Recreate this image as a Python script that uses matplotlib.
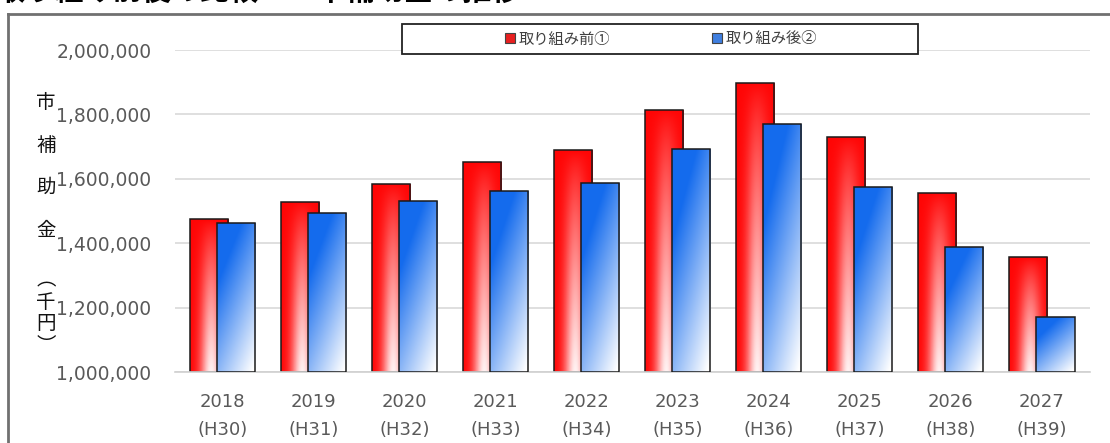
import matplotlib
matplotlib.use("Agg")
import matplotlib.pyplot as plt
import numpy as np
from matplotlib.lines import Line2D
from matplotlib.patches import Rectangle

plt.rcParams["font.family"] = ["DejaVu Sans", "Noto Sans CJK JP"]
JP = ["Noto Sans CJK JP", "DejaVu Sans"]

# ── data ──────────────────────────────────────────────────────────────────────
YEARS = ["2018", "2019", "2020", "2021", "2022", "2023", "2024", "2025", "2026", "2027"]
ERAS = ["(H30)", "(H31)", "(H32)", "(H33)", "(H34)", "(H35)", "(H36)", "(H37)", "(H38)", "(H39)"]
BEFORE = [1475000, 1528000, 1584000, 1652000, 1689000, 1814000, 1898000, 1730000, 1556000, 1357000]
AFTER = [1463000, 1494000, 1531000, 1562000, 1587000, 1693000, 1770000, 1575000, 1388000, 1171000]
LABELS = ["取り組み前①", "取り組み後②"]
YTICKS = [1000000, 1200000, 1400000, 1600000, 1800000, 2000000]
TITLE = "取り組み前後の比較　　市補助金の推移"

BAR_W = 0.42
OFFSET = 0.15
TXT = "#595959"


def gradient(kind, n=64):
    u = np.linspace(0, 1, n)[None, :]
    v = np.linspace(1, 0, n * 2)[:, None]   # row 0 = top
    if kind == "red":
        base = np.array([1.0, 0.02, 0.02])
        light = np.exp(-((u - 0.55) / 0.28) ** 2) * (1 - v) ** 0.8 * 0.95
    else:
        base = np.array([0.08, 0.42, 0.93])
        light = np.clip(u * 0.55 + (1 - v) * 0.85 - 0.35, 0, 1)
    img = base[None, None, :] * (1 - light[..., None]) + light[..., None]
    return np.clip(img, 0, 1)


def grad_bars(ax, x, h, kind, z):
    bars = ax.bar(x, np.array(h) - YTICKS[0], BAR_W, bottom=YTICKS[0],
                  facecolor="none", edgecolor="#1a1a1a", linewidth=1.1, zorder=z + 0.5)
    img = gradient(kind)
    for b in bars:
        x0, y0 = b.get_x(), b.get_y()
        fill = Rectangle((x0, y0), b.get_width(), b.get_height(),
                         facecolor="white", edgecolor="none", zorder=z)
        ax.add_patch(fill)
        im = ax.imshow(img, extent=[x0, x0 + b.get_width(), y0, y0 + b.get_height()],
                       aspect="auto", zorder=z + 0.1, interpolation="bilinear")
        im.set_clip_path(fill)
    return bars


fig = plt.figure(figsize=(11.1, 4.43), dpi=100)
ax = fig.add_axes([175 / 1110, 1 - 372 / 443, 915 / 1110, 322 / 443])

x = np.arange(len(YEARS))
grad_bars(ax, x - OFFSET, BEFORE, "red", 2)
grad_bars(ax, x + OFFSET, AFTER, "blue", 3)

ax.set_xlim(-0.52, 9.53)
ax.set_ylim(YTICKS[0], YTICKS[-1])
ax.set_yticks(YTICKS)
ax.set_yticklabels([f"{t:,}" for t in YTICKS], fontsize=13.5, color=TXT)
ax.set_xticks(x)
ax.set_xticklabels([f"{y}\n{e}" for y, e in zip(YEARS, ERAS)], fontsize=13,
                   color=TXT, linespacing=1.7)
ax.tick_params(axis="x", length=0, pad=15)
ax.tick_params(axis="y", length=0, pad=17)

ax.grid(axis="y", color="#d9d9d9", linewidth=1.2, zorder=0)
ax.set_axisbelow(True)
for s in ["top", "right", "left"]:
    ax.spines[s].set_visible(False)
ax.spines["bottom"].set_color("#d0d0d0")
ax.spines["bottom"].set_linewidth(1.2)

# vertical y label
fig.text(46 / 1110, 1 - 92 / 443, "市\n補\n助\n金", family=JP, fontsize=14,
         ha="center", va="top", linespacing=2.35, color="#111111")
fig.text(46 / 1110, 1 - 313 / 443, "︵\n千\n円\n︶", family=JP, fontsize=14,
         ha="center", va="center", linespacing=1.05, color="#111111")

# legend: frame drawn as its own box, entries centred inside
fig.add_artist(Rectangle((402 / 1110, 1 - 54 / 443), 516 / 1110, 30 / 443,
                         transform=fig.transFigure, facecolor="white",
                         edgecolor="#222222", linewidth=1.3, zorder=5))
handles = [Rectangle((0, 0), 1, 1, facecolor="#e82020", edgecolor="#444444", linewidth=0.8),
           Rectangle((0, 0), 1, 1, facecolor="#3f7fe0", edgecolor="#444444", linewidth=0.8)]
leg = fig.legend(handles, LABELS, ncol=2, loc="center",
                 bbox_to_anchor=(661 / 1110, 1 - 39 / 443), prop={"family": JP, "size": 11},
                 frameon=False, handlelength=0.65, handleheight=0.65, handletextpad=0.2,
                 columnspacing=6.7)
leg.set_zorder(6)
for t in leg.get_texts():
    t.set_color("#404040")

# outer frame and cropped title
fig.add_artist(Line2D([8 / 1110, 1.0], [1 - 14 / 443, 1 - 14 / 443], color="#707070",
                      linewidth=2, transform=fig.transFigure))
fig.add_artist(Line2D([8 / 1110, 8 / 1110], [0, 1 - 14 / 443], color="#707070",
                      linewidth=2, transform=fig.transFigure))
fig.text(-4 / 1110, 1 - 1 / 443, TITLE, family=JP, fontsize=21, fontweight="bold",
         ha="left", va="baseline", color="black")

fig.savefig("out.png", dpi=100)
